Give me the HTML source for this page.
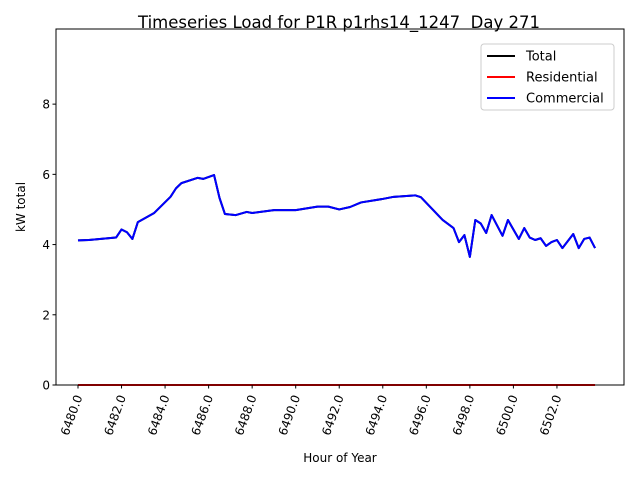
<!DOCTYPE html>
<html><head><meta charset="utf-8"><style>
body{margin:0;background:#fff;font-family:"Liberation Sans","DejaVu Sans",sans-serif}
svg text{font-family:"DejaVu Sans","Liberation Sans",sans-serif;white-space:pre}
</style></head><body>
<svg id="chart" width="640" height="480" viewBox="0 0 640 480">
<rect width="640" height="480" fill="#fff"/>
<text x="339" y="28" font-size="16.5" text-anchor="middle" xml:space="preserve">Timeseries Load for P1R p1rhs14_1247  Day 271</text>
<g id="plot"></g>
</svg>
<script>
const hours=[6480,6480.5,6481,6481.75,6482,6482.25,6482.5,6482.75,6483.5,6484.25,6484.5,6484.75,6485.5,6485.75,6486.25,6486.5,6486.75,6487.25,6487.75,6488,6489,6490,6491,6491.5,6492,6492.5,6493,6494,6494.5,6495.5,6495.75,6496.75,6497.25,6497.5,6497.75,6498,6498.25,6498.5,6498.75,6499,6499.5,6499.75,6500.25,6500.5,6500.75,6501,6501.25,6501.5,6501.75,6502,6502.25,6502.75,6503,6503.25,6503.5,6503.75];
const commercial=[4.12,4.13,4.16,4.2,4.43,4.35,4.16,4.64,4.9,5.36,5.6,5.75,5.9,5.87,5.98,5.33,4.87,4.84,4.93,4.9,4.98,4.98,5.08,5.08,5.0,5.07,5.2,5.3,5.36,5.4,5.35,4.7,4.47,4.07,4.27,3.65,4.7,4.6,4.33,4.84,4.25,4.7,4.16,4.47,4.2,4.13,4.18,3.96,4.07,4.13,3.9,4.3,3.9,4.16,4.2,3.9];
const residential=hours.map(()=>0);
const total=commercial.map((c,i)=>c+residential[i]);
const xTicks=[6480,6482,6484,6486,6488,6490,6492,6494,6496,6498,6500,6502];
const yTicks=[0,2,4,6,8];
const L=56,R=624,T=29,B=385,xmin=6478.99,xmax=6505.08,ymin=0,ymax=10.14;
const X=h=>L+(h-xmin)/(xmax-xmin)*(R-L);
const Y=v=>B-(v-ymin)/(ymax-ymin)*(B-T);
const NS="http://www.w3.org/2000/svg";
const g=document.getElementById('plot');
function mk(t,a){const e=document.createElementNS(NS,t);for(const k in a)e.setAttribute(k,a[k]);g.appendChild(e);return e;}
function line(vals,color,name){
 const p=mk('polyline',{points:vals.map((v,i)=>X(hours[i]).toFixed(2)+','+Y(v).toFixed(2)).join(' '),fill:'none',stroke:color,'stroke-width':2,'stroke-linejoin':'round'});
 
 
}
line(total,'#000','total-line');
line(residential,'#ff0000','residential-line');
line(commercial,'#0000ff','commercial-line');
const frame=mk('rect',{x:L,y:T,width:R-L,height:B-T,fill:'none',stroke:'#000','stroke-width':1});


xTicks.forEach(t=>{
 const x=X(t);
 mk('line',{x1:x,x2:x,y1:B,y2:B+3.5,stroke:'#000'});
 const tx=mk('text',{x:x+2,y:B+8,'font-size':12,'text-anchor':'end',transform:`rotate(-70 ${x+6} ${B+8})`});
 tx.textContent=t.toFixed(1);
 
 
});
yTicks.forEach(t=>{
 const y=Y(t);
 mk('line',{x1:L-3.5,x2:L,y1:y,y2:y,stroke:'#000'});
 const tx=mk('text',{x:L-6,y:y+4.5,'font-size':12,'text-anchor':'end'});
 tx.textContent=t;
 
 
});
const xl=mk('text',{x:(L+R)/2,y:462,'font-size':12,'text-anchor':'middle'});xl.textContent='Hour of Year';


const yl=mk('text',{x:25,y:(T+B)/2,'font-size':12,'text-anchor':'middle',transform:`rotate(-90 25 ${(T+B)/2})`});yl.textContent='kW total';


const lg=mk('rect',{x:481,y:44,width:133,height:66,fill:'#fff',stroke:'#ccc',rx:3});


[['Total','#000'],['Residential','#ff0000'],['Commercial','#0000ff']].forEach((e,i)=>{
 const y=56+i*21;
 mk('line',{x1:487,x2:515,y1:y,y2:y,stroke:e[1],'stroke-width':2});
 const t=mk('text',{x:526,y:y+4.5,'font-size':13});t.textContent=e[0];
 
 
});
</script>
</body></html>
